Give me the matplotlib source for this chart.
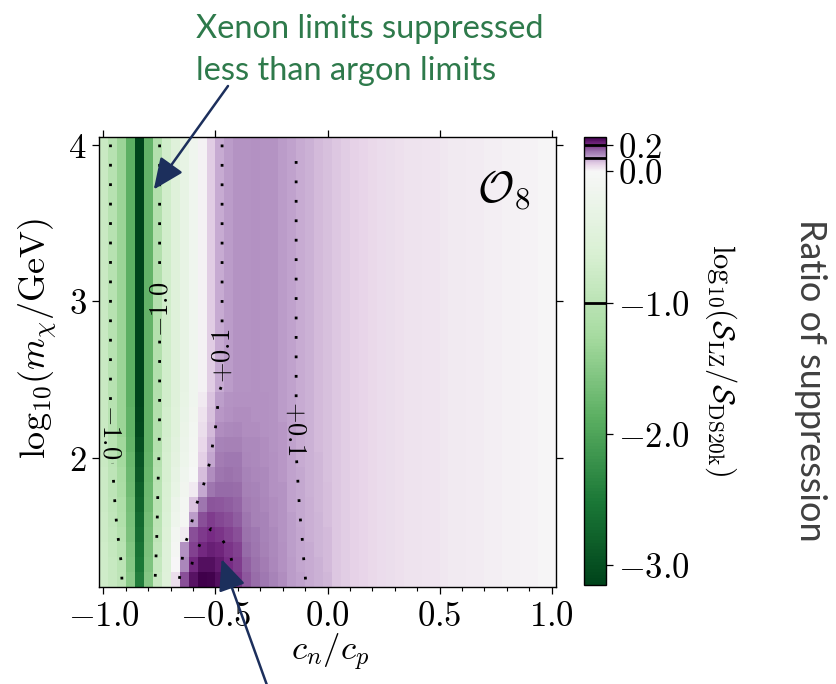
import numpy as np
import matplotlib
matplotlib.use("Agg")
import matplotlib.pyplot as plt
from matplotlib.colors import ListedColormap, Normalize
from matplotlib.ticker import MultipleLocator

plt.rcParams['mathtext.fontset'] = 'cm'
plt.rcParams['font.family'] = ['Lato', 'DejaVu Sans']

# ---------------- data ----------------
x_centers = np.round(np.linspace(-1.0, 1.0, 51), 2)       # c_n / c_p
y_centers = np.round(np.linspace(1.225, 4.0, 30), 4)       # log10(m_chi / GeV)

# value per column for the upper rows (log10 m > 2.4)
upper_profile = [-0.82, -1.05, -1.35, -1.85, -3.15, -1.80, -1.10, -0.72, -0.50, -0.32,
                 -0.17, 0.01, 0.06, 0.096, 0.113, 0.117, 0.120, 0.121, 0.120, 0.117,
                 0.112, 0.104, 0.096, 0.088, 0.080, 0.072,
                 0.065, 0.058, 0.052, 0.047, 0.043, 0.039, 0.036, 0.033, 0.030, 0.028,
                 0.026, 0.024, 0.022, 0.020, 0.018, 0.016, 0.014, 0.012, 0.011, 0.009,
                 0.007, 0.006, 0.004, 0.003, 0.002]

# lower rows (bottom -> up), columns c_n/c_p = -1.00 ... 0.00
lower_rows = [
    [-0.74, -0.84, -0.97, -1.50, -2.46, -1.55, -0.83, -0.50, 0.035, 0.179, 0.235, 0.26, 0.255, 0.24, 0.22, 0.197, 0.172, 0.156, 0.144, 0.134, 0.125, 0.1124, 0.1044, 0.0964, 0.0884, 0.0804],
    [-0.75, -0.86, -1.00, -1.54, -2.52, -1.58, -0.88, -0.52, 0.0, 0.133, 0.21, 0.24, 0.238, 0.225, 0.205, 0.193, 0.165, 0.152, 0.141, 0.132, 0.123, 0.1112, 0.1032, 0.0952, 0.0872, 0.0792],
    [-0.76, -0.88, -1.03, -1.57, -2.58, -1.61, -0.93, -0.54, -0.06, 0.123, 0.19, 0.21, 0.22, 0.212, 0.20, 0.188, 0.158, 0.148, 0.139, 0.130, 0.122, 0.110, 0.102, 0.094, 0.086, 0.078],
    [-0.77, -0.90, -1.07, -1.60, -2.64, -1.64, -0.97, -0.56, -0.12, 0.02, 0.18, 0.195, 0.205, 0.198, 0.19, 0.18, 0.152, 0.144, 0.136, 0.128, 0.120, 0.1092, 0.1012, 0.0932, 0.0852, 0.0772],
    [-0.78, -0.92, -1.11, -1.63, -2.70, -1.67, -1.00, -0.58, -0.18, -0.05, 0.112, 0.18, 0.192, 0.185, 0.178, 0.17, 0.147, 0.140, 0.134, 0.126, 0.119, 0.1078, 0.0998, 0.0918, 0.0838, 0.0758],
    [-0.79, -0.94, -1.15, -1.67, -2.76, -1.70, -1.015, -0.60, -0.24, -0.09, 0.07, 0.15, 0.175, 0.172, 0.168, 0.162, 0.142, 0.137, 0.132, 0.125, 0.118, 0.1068, 0.0988, 0.0908, 0.0828, 0.0748],
    [-0.80, -0.96, -1.19, -1.70, -2.82, -1.73, -1.03, -0.62, -0.30, -0.13, 0.02, 0.099, 0.148, 0.16, 0.16, 0.156, 0.138, 0.134, 0.130, 0.123, 0.117, 0.106, 0.098, 0.090, 0.082, 0.074],
    [-0.81, -0.98, -1.23, -1.74, -2.88, -1.76, -1.05, -0.64, -0.35, -0.17, -0.02, 0.075, 0.125, 0.15, 0.153, 0.15, 0.134, 0.131, 0.128, 0.122, 0.116, 0.1052, 0.0972, 0.0892, 0.0812, 0.0732],
    [-0.815, -1.00, -1.27, -1.77, -2.95, -1.78, -1.07, -0.66, -0.40, -0.20, -0.05, 0.055, 0.103, 0.142, 0.146, 0.144, 0.131, 0.129, 0.126, 0.121, 0.115, 0.1044, 0.0964, 0.0884, 0.0804, 0.0724],
    [-0.82, -1.02, -1.30, -1.80, -3.02, -1.80, -1.09, -0.68, -0.44, -0.23, -0.08, 0.045, 0.092, 0.135, 0.138, 0.137, 0.128, 0.127, 0.124, 0.120, 0.114, 0.104, 0.096, 0.088, 0.080, 0.072],
    [-0.82, -1.04, -1.33, -1.83, -3.08, -1.80, -1.10, -0.70, -0.47, -0.26, -0.11, 0.035, 0.077, 0.125, 0.13, 0.131, 0.126, 0.125, 0.123, 0.119, 0.114, 0.104, 0.096, 0.088, 0.080, 0.072],
    [-0.82, -1.05, -1.34, -1.84, -3.12, -1.80, -1.10, -0.71, -0.49, -0.28, -0.13, 0.03, 0.072, 0.115, 0.123, 0.126, 0.124, 0.123, 0.122, 0.118, 0.113, 0.104, 0.096, 0.088, 0.080, 0.072],
    [-0.82, -1.05, -1.35, -1.85, -3.15, -1.80, -1.10, -0.72, -0.50, -0.30, -0.15, 0.02, 0.068, 0.107, 0.118, 0.121, 0.122, 0.122, 0.121, 0.118, 0.113, 0.104, 0.096, 0.088, 0.080, 0.072],
]

contour_levels = [-1.0, 0.1, 0.2]
label_levels = [-1.0, 0.1]
label_fmt = {-1.0: r'$-1.0$', 0.1: r'$+0.1$'}
cbar_ticks = [-3.0, -2.0, -1.0, 0.0, 0.2]
cbar_ticklabels = [r'$-3.0$', r'$-2.0$', r'$-1.0$', r'$0.0$', r'$0.2$']
x_ticks = [-1.0, -0.5, 0.0, 0.5, 1.0]
x_ticklabels = [r'$-1.0$', r'$-0.5$', r'$0.0$', r'$0.5$', r'$1.0$']
y_ticks = [2, 3, 4]
y_ticklabels = [r'$2$', r'$3$', r'$4$']
note_lines = ['Xenon limits suppressed', 'less than argon limits']

# assemble value grid
Z = np.tile(np.array(upper_profile, dtype=float), (len(y_centers), 1))
low = np.array(lower_rows, dtype=float)
Z[:low.shape[0], :low.shape[1]] = low

vmin, vmax = -3.15, 0.26

# colormap: PRGn_r with white at 0 and a linear value axis
base = plt.get_cmap('PRGn_r')
vv = np.linspace(vmin, vmax, 1024)
nn = np.where(vv < 0, 0.5 * (vv - vmin) / (0 - vmin), 0.5 + 0.5 * vv / vmax)
cmap = ListedColormap(base(nn))
norm = Normalize(vmin=vmin, vmax=vmax)

# ---------------- figure ----------------
W, H = 836, 684
fig = plt.figure(figsize=(W / 100, H / 100), dpi=100)
ax = fig.add_axes([99 / W, (H - 587) / H, 457 / W, 450 / H])
cax = fig.add_axes([584 / W, (H - 585) / H, 22 / W, 448 / H])

mesh = ax.pcolormesh(x_centers, y_centers, Z, cmap=cmap, norm=norm, shading='nearest')
cs = ax.contour(x_centers, y_centers, Z, levels=contour_levels, colors='k',
                linewidths=2.0, linestyles=[(0, (1, 6))] * 3)
label_pos = [(-0.955, 2.17), (-0.744, 2.95), (-0.47, 2.65), (-0.14, 2.19)]
texts = ax.clabel(cs, levels=label_levels, fmt=label_fmt, manual=label_pos,
                  inline=True, inline_spacing=4, fontsize=19)
for t, rot in zip(texts, [-90, 90, 90, -90]):
    t.set_rotation(rot)

ax.set_xlim(-1.02, 1.02)
ax.set_ylim(y_centers[0] - (y_centers[1] - y_centers[0]) / 2,
            y_centers[-1] + (y_centers[1] - y_centers[0]) / 2)
ax.set_xticks(x_ticks, labels=x_ticklabels)
ax.set_yticks(y_ticks, labels=y_ticklabels)
ax.xaxis.set_minor_locator(MultipleLocator(0.1))
ax.tick_params(which='major', direction='out', top=True, right=True, length=5,
               width=0.9, labelsize=25, pad=4)
ax.tick_params(which='minor', direction='out', top=False, right=False, length=3,
               width=0.8)
for s in ax.spines.values():
    s.set_linewidth(1.0)

ax.text(0.945, 0.93, r'$\mathcal{O}_8$', transform=ax.transAxes, ha='right', va='top',
        fontsize=32)

# colorbar
cbar = fig.colorbar(mesh, cax=cax)
cbar.set_ticks(cbar_ticks, labels=cbar_ticklabels)
cbar.ax.tick_params(labelsize=25, length=5, width=0.9, direction='out', pad=4)
cbar.outline.set_linewidth(1.0)
cbar.add_lines(contour_levels, colors=['k'] * 3, linewidths=[2.0] * 3)

# axis labels
fig.text(38 / W, 1 - 338 / H, r'$\mathrm{log}_{10}(m_\chi/\mathrm{GeV})$', rotation=90,
         ha='center', va='center', fontsize=26)
fig.text(330 / W, 1 - 652 / H, r'$c_n/c_p$', ha='center', va='center', fontsize=25)
fig.text(721 / W, 1 - 360 / H,
         r'$\mathrm{log}_{10}(\mathcal{S}_{\mathrm{LZ}}/\mathcal{S}_{\mathrm{DS20k}})$',
         rotation=270, ha='center', va='center', fontsize=22)
fig.text(810 / W, 1 - 380 / H, 'Ratio of suppression', rotation=270, ha='center',
         va='center', fontsize=26, color='#404040')

# annotation
fig.text(196 / W, 1 - 38 / H, note_lines[0], ha='left', va='baseline',
         fontsize=23.5, color='#2e7a4b')
fig.text(196 / W, 1 - 80 / H, note_lines[1], ha='left', va='baseline',
         fontsize=23.5, color='#2e7a4b')

navy = '#1c2f5c'
arrow_kw = dict(arrowstyle='-|>,head_length=0.95,head_width=0.42', color=navy, lw=1.8,
                mutation_scale=20, shrinkA=0, shrinkB=0)
ax.annotate('', xy=(-0.7755, 3.713), xycoords='data', xytext=(228, H - 86),
            textcoords='figure pixels', arrowprops=arrow_kw, annotation_clip=False)
ax.annotate('', xy=(-0.4726, 1.355), xycoords='data', xytext=(268, -4),
            textcoords='figure pixels', arrowprops=arrow_kw, annotation_clip=False)

fig.savefig('out.png', dpi=100)
